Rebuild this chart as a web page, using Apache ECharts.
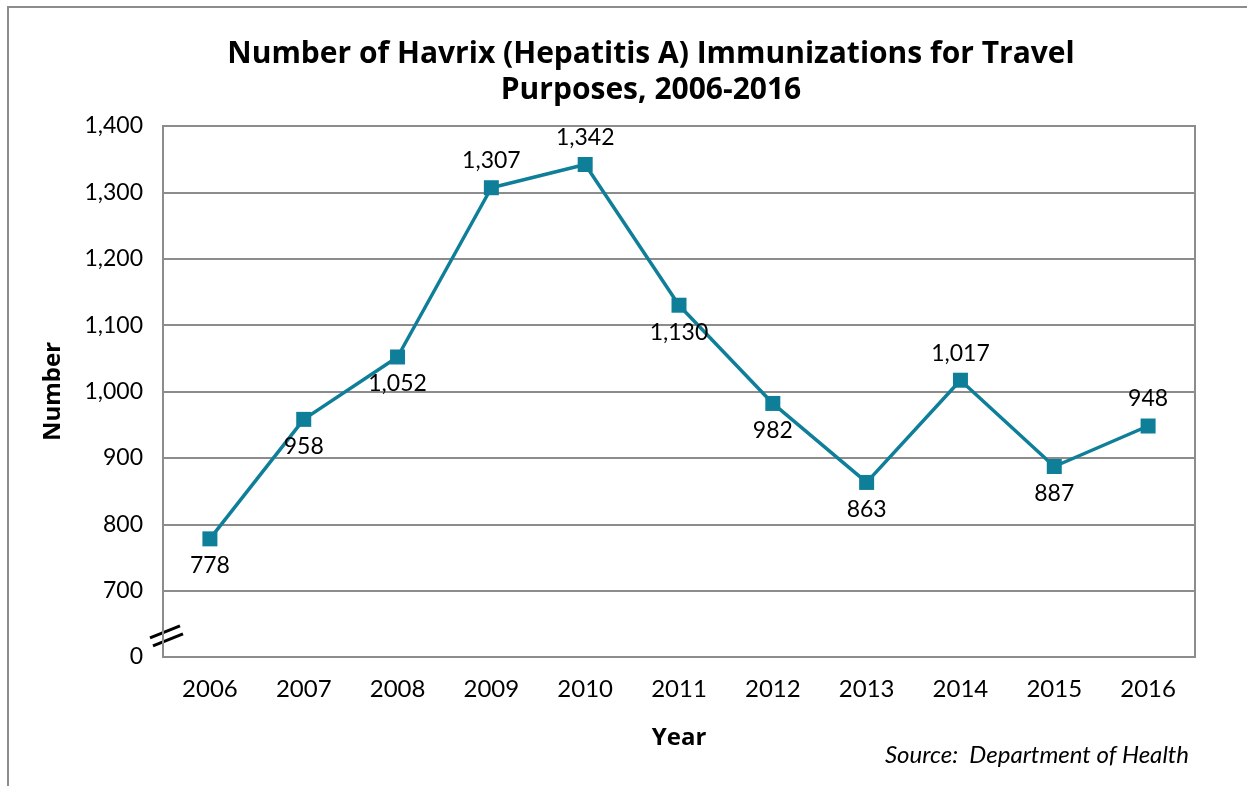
<!DOCTYPE html>
<html>
<head>
<meta charset="utf-8">
<script src="https://cdn.jsdelivr.net/npm/echarts@6/dist/echarts.min.js"></script>
<style>
  html, body { margin: 0; padding: 0; background: #fff; }
  #chart { width: 1247px; height: 786px; }
</style>
</head>
<body>
<div id="chart"></div>
<script>
var years = ['2006', '2007', '2008', '2009', '2010', '2011', '2012', '2013', '2014', '2015', '2016'];
var immunizations = [778, 958, 1052, 1307, 1342, 1130, 982, 863, 1017, 887, 948];
// where each data label sits relative to its point
var labelSides = ['bottom', 'bottom', 'bottom', 'top', 'top', 'bottom', 'bottom', 'bottom', 'top', 'bottom', 'top'];
// axis is broken: the lowest tick stands for 0
var yMin = 600, yMax = 1400, yStep = 100;

var fontFamily = 'Lato, "Noto Sans", sans-serif';
var boldFamily = '"Open Sans", Lato, sans-serif';
var gridColor = '#8c8c8c';
var lineColor = '#0f7f99';

function fmt(v) {
    return v.toString().replace(/\B(?=(\d{3})+(?!\d))/g, ',');
}

var chart = echarts.init(document.getElementById('chart'));

var seriesData = [];
for (var i = 0; i < immunizations.length; i++) {
    seriesData.push({
        value: immunizations[i],
        label: {position: labelSides[i]}
    });
}

chart.setOption({
    animation: false,
    textStyle: {fontFamily: fontFamily},
    title: {
        text: 'Number of Havrix (Hepatitis A) Immunizations for Travel\nPurposes, 2006-2016',
        left: 646,
        top: 31,
        textAlign: 'center',
        textStyle: {fontSize: 30, fontWeight: 'bold', color: '#000', lineHeight: 36, fontFamily: boldFamily}
    },
    grid: {
        left: 163, right: 52, top: 126, bottom: 129,
        show: true, borderColor: gridColor, borderWidth: 2
    },
    xAxis: {
        type: 'category',
        data: years,
        boundaryGap: true,
        name: 'Year',
        nameLocation: 'middle',
        nameGap: 69,
        nameTextStyle: {fontSize: 24, fontWeight: 'bold', color: '#000', fontFamily: boldFamily},
        axisLine: {lineStyle: {color: gridColor, width: 2}},
        axisTick: {show: false},
        axisLabel: {fontSize: 24, color: '#000', margin: 20}
    },
    yAxis: {
        type: 'value',
        min: yMin, max: yMax, interval: yStep,
        name: 'Number',
        nameLocation: 'middle',
        nameGap: 98,
        nameTextStyle: {fontSize: 24, fontWeight: 'bold', color: '#000', fontFamily: boldFamily},
        axisLine: {show: true, lineStyle: {color: gridColor, width: 2}},
        axisTick: {show: false},
        splitLine: {lineStyle: {color: gridColor, width: 2}},
        axisLabel: {
            fontSize: 23, color: '#000', margin: 20,
            formatter: function (v) { return v === yMin ? '0' : fmt(v); }
        }
    },
    series: [{
        type: 'line',
        data: seriesData,
        symbol: 'rect',
        symbolSize: 15,
        lineStyle: {color: lineColor, width: 3.5},
        itemStyle: {color: lineColor},
        label: {
            show: true,
            fontSize: 23,
            color: '#000',
            distance: 8,
            formatter: function (p) { return fmt(p.value); }
        }
    }]
});

// frame round the chart and the axis break mark
var breakAt = chart.convertToPixel({yAxisIndex: 0}, yMin + yStep / 3);
var axisX = 163;
chart.setOption({
    graphic: [
        {
            type: 'rect',
            shape: {x: 8, y: 7, width: 1260, height: 800},
            style: {fill: 'none', stroke: gridColor, lineWidth: 2},
            silent: true
        },
        {
            type: 'line',
            shape: {x1: axisX - 13, y1: breakAt + 3, x2: axisX + 17, y2: breakAt - 9},
            style: {stroke: '#000', lineWidth: 3}
        },
        {
            type: 'line',
            shape: {x1: axisX - 10, y1: breakAt + 11, x2: axisX + 20, y2: breakAt - 1},
            style: {stroke: '#000', lineWidth: 3}
        },
        {
            type: 'text',
            right: 58,
            top: 743,
            style: {
                text: 'Source:  Department of Health',
                font: 'italic 24px ' + fontFamily,
                fill: '#000'
            }
        }
    ]
});
</script>
</body>
</html>
